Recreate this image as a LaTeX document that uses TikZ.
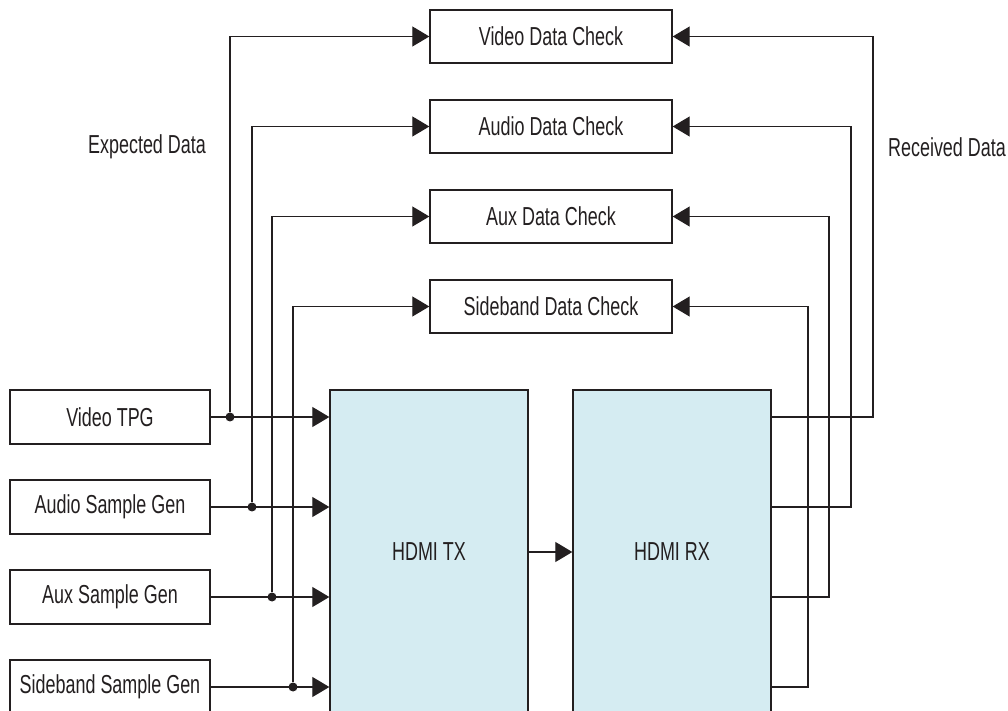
\documentclass[tikz,border=0pt]{standalone}
\usepackage{fontspec}
\setmainfont{Liberation Sans}[FakeStretch=0.69]
\usetikzlibrary{arrows.meta}

\definecolor{hdmiblue}{RGB}{213,236,242}
\definecolor{ink}{RGB}{35,31,32}

\tikzset{
  blk/.style={draw=ink,line width=0.7pt,minimum width=100pt,minimum height=27pt,
    inner sep=0pt,text=ink,font=\fontsize{13}{15}\selectfont},
  chk/.style={blk,minimum width=121pt,minimum height=26.5pt},
  core/.style={blk,fill=hdmiblue,minimum width=99pt,minimum height=162pt},
  sig/.style={draw=ink,line width=0.65pt},
  arr/.style={sig,-{Triangle[length=8.5pt,width=10pt]}},
  junction/.style={circle,fill=ink,inner sep=0pt,minimum size=4.5pt},
  lbl/.style={text=ink,font=\fontsize{13}{15}\selectfont}
}

\begin{document}
\begin{tikzpicture}[x=0.5pt,y=-0.5pt]
\useasboundingbox (0,0) rectangle (1008,711);

% generators
\node[blk](vtpg) at (110,417){Video TPG};
\node[blk](asg) at (110,507){Audio Sample Gen};
\node[blk](xsg) at (110,597){Aux Sample Gen};
\node[blk](ssg) at (110,687){Sideband Sample Gen};

% checkers
\node[chk](vdc) at (551,36.5){Video Data Check};
\node[chk](adc) at (551,126.5){Audio Data Check};
\node[chk](xdc) at (551,216.5){Aux Data Check};
\node[chk](sdc) at (551,306.5){Sideband Data Check};

% hdmi cores
\node[core](tx) at (429,552){HDMI TX};
\node[core](rx) at (672,552){HDMI RX};

\node[lbl](exp) at (147,147){Expected Data};
\node[lbl](rcv) at (947,147){Received Data};

% generators into tx
\draw[arr](vtpg.east) -- (tx.west |- vtpg);
\draw[arr](asg.east) -- (tx.west |- asg);
\draw[arr](xsg.east) -- (tx.west |- xsg);
\draw[arr](ssg.east) -- (tx.west |- ssg);

% expected data taps
\node[junction](jv) at (230,417){};
\node[junction](ja) at (252,507){};
\node[junction](jx) at (272,597){};
\node[junction](js) at (293,687){};
\draw[arr](jv) |- (vdc);
\draw[arr](ja) |- (adc);
\draw[arr](jx) |- (xdc);
\draw[arr](js) |- (sdc);

\draw[arr](tx) -- (rx);

% received data
\coordinate(rv) at (873,417);
\coordinate(ra) at (851,507);
\coordinate(rx2) at (829,597);
\coordinate(rs) at (808,687);
\draw[arr](rx.east |- rv) -- (rv) |- (vdc);
\draw[arr](rx.east |- ra) -- (ra) |- (adc);
\draw[arr](rx.east |- rx2) -- (rx2) |- (xdc);
\draw[arr](rx.east |- rs) -- (rs) |- (sdc);

\end{tikzpicture}
\end{document}
